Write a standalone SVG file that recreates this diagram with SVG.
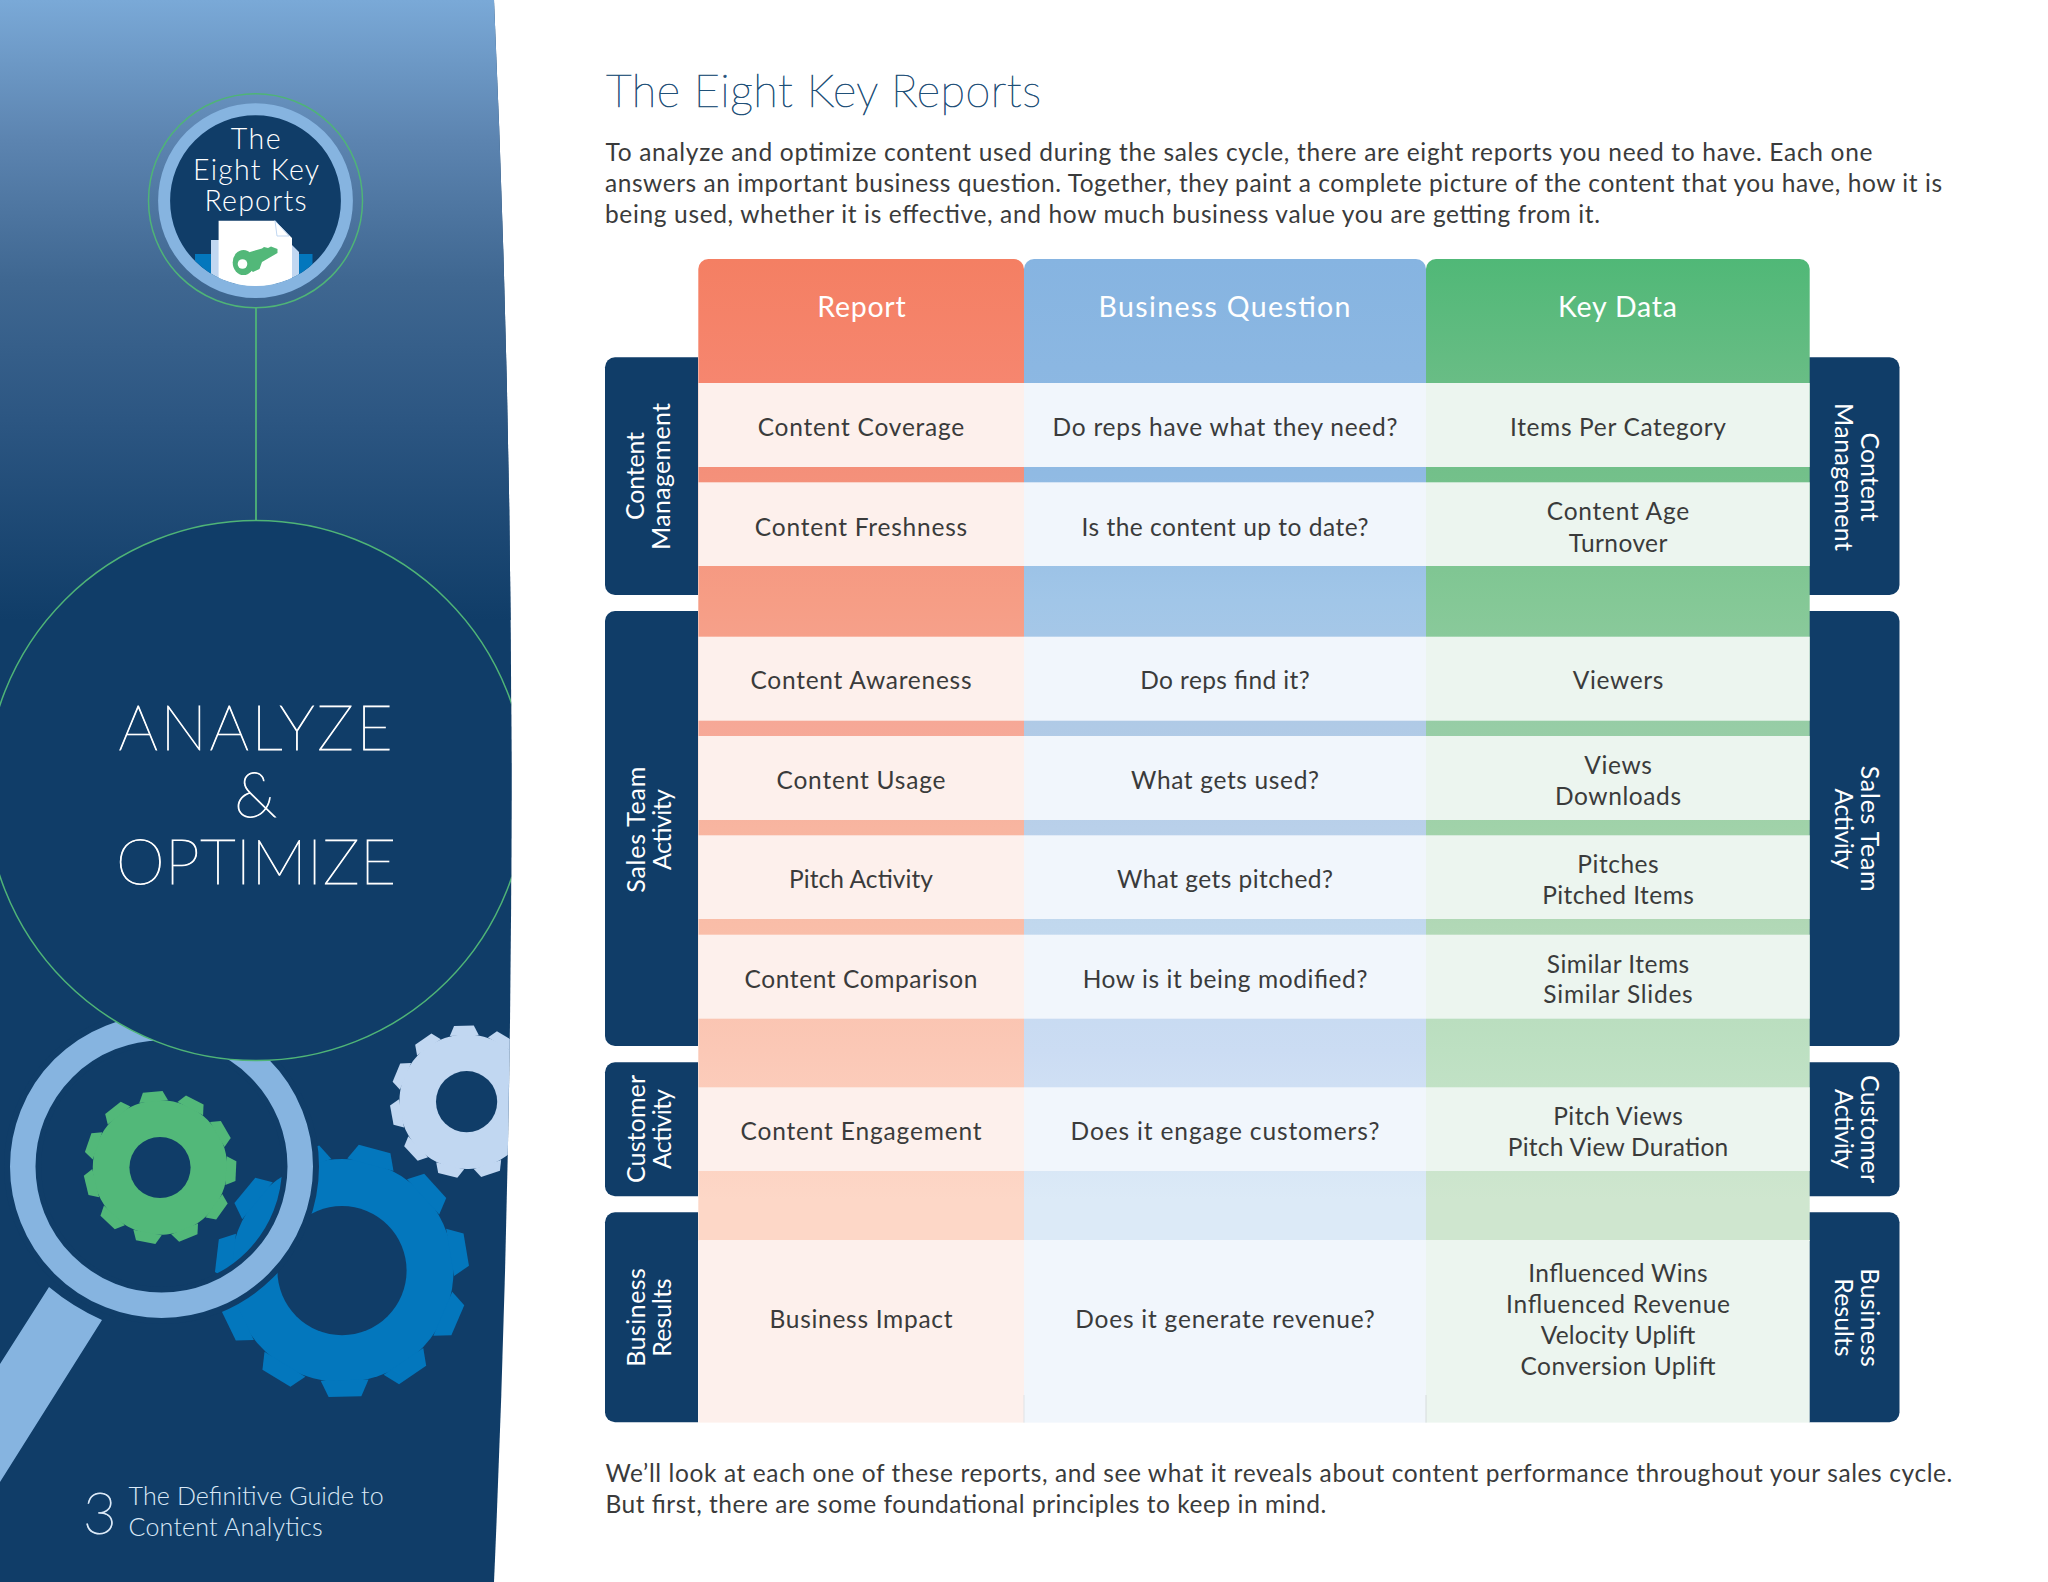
<svg xmlns="http://www.w3.org/2000/svg" width="2048" height="1582" viewBox="0 0 2048 1582">
<style>
text{font-family:"Lato","Liberation Sans",sans-serif}
.c{font-size:24.5px;fill:#3a3b3b;text-anchor:middle;transform:translateY(1px)}
.b{font-size:24.5px;fill:#3a3b3b}
.h{font-size:28.5px;font-weight:400;fill:#fff;text-anchor:middle}
.t{font-size:25px;fill:#fff;text-anchor:middle}
.w{fill:#fff;text-anchor:middle;font-weight:300}
.big{font-weight:200;stroke:#fff;stroke-width:.9px}
.tab{fill:#103d68}
.p1{fill:#fdf0ec}.p2{fill:#f1f6fc}.p3{fill:#ecf5ef}
</style>
<defs>
<linearGradient id="side" gradientUnits="userSpaceOnUse" x1="0" y1="0" x2="0" y2="620">
<stop offset="0" stop-color="#7aa9d7"/><stop offset=".226" stop-color="#5c84b0"/><stop offset=".452" stop-color="#3f6791"/><stop offset=".677" stop-color="#2c5682"/><stop offset="1" stop-color="#103d68"/>
</linearGradient>
<linearGradient id="g1" gradientUnits="userSpaceOnUse" x1="0" y1="259" x2="0" y2="1240">
<stop offset="0" stop-color="#f47f63"/><stop offset=".126" stop-color="#f6866f"/><stop offset=".22" stop-color="#f4907a"/><stop offset=".348" stop-color="#f69d85"/><stop offset=".478" stop-color="#f6a897"/><stop offset=".579" stop-color="#f8b5a0"/><stop offset=".679" stop-color="#f9bda8"/><stop offset=".807" stop-color="#fbc8b6"/><stop offset=".959" stop-color="#fdd7c7"/>
</linearGradient>
<linearGradient id="g2" gradientUnits="userSpaceOnUse" x1="0" y1="259" x2="0" y2="1240">
<stop offset="0" stop-color="#86b4e1"/><stop offset=".22" stop-color="#90bae3"/><stop offset=".348" stop-color="#a1c6e8"/><stop offset=".478" stop-color="#b0cae6"/><stop offset=".579" stop-color="#b9d0ea"/><stop offset=".679" stop-color="#c1d8ee"/><stop offset=".807" stop-color="#cbdcf3"/><stop offset=".959" stop-color="#dceaf7"/>
</linearGradient>
<linearGradient id="g3" gradientUnits="userSpaceOnUse" x1="0" y1="259" x2="0" y2="1240">
<stop offset="0" stop-color="#50b877"/><stop offset=".126" stop-color="#69bd85"/><stop offset=".22" stop-color="#73c08a"/><stop offset=".348" stop-color="#84c896"/><stop offset=".478" stop-color="#97cda6"/><stop offset=".579" stop-color="#a0d2a9"/><stop offset=".679" stop-color="#b1d8b6"/><stop offset=".807" stop-color="#bde0c2"/><stop offset=".959" stop-color="#cfe6cf"/>
</linearGradient>
<clipPath id="sideclip"><path d="M0 0H494Q529 791 494 1582H0Z"/></clipPath>
<clipPath id="badgeclip"><circle cx="255.5" cy="200.7" r="85.4"/></clipPath>
<polygon id="tooth" points="-19,-87 -13,-100 13,-100 19,-87"/>
<g id="gear">
<circle r="88.500"/>
<use href="#tooth"/>
<use href="#tooth" transform="rotate(32.73)"/>
<use href="#tooth" transform="rotate(65.45)"/>
<use href="#tooth" transform="rotate(98.18)"/>
<use href="#tooth" transform="rotate(130.91)"/>
<use href="#tooth" transform="rotate(163.64)"/>
<use href="#tooth" transform="rotate(196.36)"/>
<use href="#tooth" transform="rotate(229.09)"/>
<use href="#tooth" transform="rotate(261.82)"/>
<use href="#tooth" transform="rotate(294.55)"/>
<use href="#tooth" transform="rotate(327.27)"/>
</g>
</defs>
<rect width="2048" height="1582" fill="#fff"/>

<g id="sidebar" clip-path="url(#sideclip)">
<rect width="540" height="1582" fill="#103d68"/>
<rect width="540" height="620" fill="url(#side)"/>
<g id="gears">
<use href="#gear" transform="translate(466.6,1101.7) rotate(-2) scale(.76)" fill="#c1d7f1"/>
<circle cx="466.6" cy="1101.7" r="30.6" fill="#103d68"/>
<use href="#gear" transform="translate(342,1270.6) rotate(15) scale(1.26)" fill="#0377bd"/>
<circle cx="342" cy="1270.6" r="64.6" fill="#103d68"/>
</g>
<g id="magnifier">
<circle cx="161.5" cy="1166.5" r="139" fill="none" stroke="#103d68" stroke-width="37"/>
<circle cx="161.5" cy="1166.5" r="138.75" fill="none" stroke="#86b4e0" stroke-width="25.5"/>
<path d="M49 1287Q73 1307 102 1320L0 1482V1364Z" fill="#86b4e0"/>
<use href="#gear" transform="translate(160,1167.5) rotate(-5.5) scale(.76)" fill="#52b879"/>
<circle cx="160" cy="1167.5" r="30.6" fill="#103d68"/>
</g>
<g id="analyze-node">
<circle cx="256" cy="790.6" r="270" fill="#103d68" stroke="#4fb477" stroke-width="1.5"/>
<text class="w big" font-size="62" x="255.500" y="750" textLength="274">ANALYZE</text>
<text class="w big" font-size="62" x="255.500" y="817">&amp;</text>
<text class="w big" font-size="62" x="256" y="884" textLength="280">OPTIMIZE</text>
</g>
<g id="badge-node">
<circle cx="255.500" cy="200.700" r="107" fill="none" stroke="#4fb477" stroke-width="1.500"/>
<circle cx="255.500" cy="200.700" r="91.400" fill="#103d68" stroke="#86b4e0" stroke-width="12"/>
<g clip-path="url(#badgeclip)">
<rect x="195" y="254" width="117.500" height="40" fill="#0377bd"/>
<path d="M211 240H287L299 252V294H211Z" fill="#c1d7f1"/>
<path d="M218.600 220.700H275L292 238V294H218.600Z" fill="#fff"/>
<path d="M275 220.700L289 236H277Z" fill="#fff" stroke="#c1d7f1" stroke-width="1"/>
<ellipse cx="243.500" cy="262.500" rx="10.800" ry="12.600" fill="#52b879"/>
<polygon points="250,252 262,248.500 264,247 268,248 271,246.500 277.500,249 277.500,253 262,262 259.500,269 253,272 248,268" fill="#52b879"/>
<circle cx="242.500" cy="264" r="4.800" fill="#fff"/>
</g>
<text class="w" font-size="28.500" x="255.700" y="148.600" textLength="50">The</text>
<text class="w" font-size="28.500" x="256" y="179.600" textLength="126">Eight Key</text>
<text class="w" font-size="28.500" x="255.500" y="210.700" textLength="102">Reports</text>
</g>
<g id="footer-node" fill="#dbe9f7">
<text x="83" y="1533.500" font-size="58" font-weight="200" fill="#dbe9f7" stroke="#dbe9f7" stroke-width=".9">3</text>
<text x="128.600" y="1505.400" font-size="25" font-weight="300" fill="#dbe9f7" textLength="255">The Definitive Guide to</text>
<text x="128.600" y="1536" font-size="25" font-weight="300" fill="#dbe9f7" textLength="194">Content Analytics</text>
</g>
</g>

<g id="connectors">
<line x1="256" y1="308" x2="256" y2="520.700" stroke="#4fb477" stroke-width="1.800"/>
</g>

<g id="intro">
<text x="606" y="106.700" font-size="45" font-weight="200" fill="#1f5078" stroke="#1f5078" stroke-width=".7" textLength="435">The Eight Key Reports</text>
<text class="b" x="605.500" y="160.700" textLength="1267">To analyze and optimize content used during the sales cycle, there are eight reports you need to have. Each one</text>
<text class="b" x="605" y="191.700" textLength="1337">answers an important business question. Together, they paint a complete picture of the content that you have, how it is</text>
<text class="b" x="605" y="222.700" textLength="995">being used, whether it is effective, and how much business value you are getting from it.</text>
</g>

<g id="tab-left-content-management">
<path class="tab" d="M698 357.300H615A10 10 0 0 0 605 367.300V585A10 10 0 0 0 615 595H698Z"/>
<text class="t" transform="translate(644,476) rotate(-90)" textLength="88">Content</text>
<text class="t" transform="translate(670,476.500) rotate(-90)" textLength="147">Management</text>
</g>
<g id="tab-left-sales-team-activity">
<path class="tab" d="M698 611H615A10 10 0 0 0 605 621V1036A10 10 0 0 0 615 1046H698Z"/>
<text class="t" transform="translate(645,829.700) rotate(-90)" textLength="126">Sales Team</text>
<text class="t" transform="translate(671,829.500) rotate(-90)" textLength="81">Activity</text>
</g>
<g id="tab-left-customer-activity">
<path class="tab" d="M698 1062.300H615A10 10 0 0 0 605 1072.300V1186.300A10 10 0 0 0 615 1196.300H698Z"/>
<text class="t" transform="translate(645,1129) rotate(-90)" textLength="108">Customer</text>
<text class="t" transform="translate(671,1129) rotate(-90)" textLength="80">Activity</text>
</g>
<g id="tab-left-business-results">
<path class="tab" d="M698 1212.300H615A10 10 0 0 0 605 1222.300V1412.300A10 10 0 0 0 615 1422.300H698Z"/>
<text class="t" transform="translate(645,1317.400) rotate(-90)" textLength="98.700">Business</text>
<text class="t" transform="translate(671,1317.500) rotate(-90)" textLength="78.400">Results</text>
</g>

<g id="tab-right-content-management">
<path class="tab" d="M1809 357.300H1889.500A10 10 0 0 1 1899.500 367.300V585A10 10 0 0 1 1889.500 595H1809Z"/>
<text class="t" transform="translate(1860.500,477) rotate(90)" textLength="89">Content</text>
<text class="t" transform="translate(1834.500,477) rotate(90)" textLength="148">Management</text>
</g>
<g id="tab-right-sales-team-activity">
<path class="tab" d="M1809 611H1889.500A10 10 0 0 1 1899.500 621V1036A10 10 0 0 1 1889.500 1046H1809Z"/>
<text class="t" transform="translate(1860.500,828.700) rotate(90)" textLength="126">Sales Team</text>
<text class="t" transform="translate(1834.500,829) rotate(90)" textLength="81">Activity</text>
</g>
<g id="tab-right-customer-activity">
<path class="tab" d="M1809 1062.300H1889.500A10 10 0 0 1 1899.500 1072.300V1186.300A10 10 0 0 1 1889.500 1196.300H1809Z"/>
<text class="t" transform="translate(1860.500,1129) rotate(90)" textLength="108">Customer</text>
<text class="t" transform="translate(1834.500,1129) rotate(90)" textLength="80">Activity</text>
</g>
<g id="tab-right-business-results">
<path class="tab" d="M1809 1212.300H1889.500A10 10 0 0 1 1899.500 1222.300V1412.300A10 10 0 0 1 1889.500 1422.300H1809Z"/>
<text class="t" transform="translate(1860.500,1317.500) rotate(90)" textLength="98.700">Business</text>
<text class="t" transform="translate(1834.500,1317.500) rotate(90)" textLength="78.400">Results</text>
</g>

<g id="header-report">
<path d="M698.300 1241V269A10 10 0 0 1 708.300 259H1014A10 10 0 0 1 1024 269V1241Z" fill="url(#g1)"/>
<text class="h" x="861.500" y="316.700" textLength="88.300">Report</text>
</g>
<g id="header-business-question">
<path d="M1024 1241V269A10 10 0 0 1 1034 259H1416A10 10 0 0 1 1426 269V1241Z" fill="url(#g2)"/>
<text class="h" x="1224.500" y="316.700" textLength="252">Business Question</text>
</g>
<g id="header-key-data">
<path d="M1426 1241V269A10 10 0 0 1 1436 259H1799.700A10 10 0 0 1 1809.700 269V1241Z" fill="url(#g3)"/>
<text class="h" x="1617.500" y="316.700" textLength="119">Key Data</text>
</g>

<g id="row-content-coverage">
<rect class="p1" x="698.300" y="383" width="325.700" height="84"/><rect class="p2" x="1024" y="383" width="402" height="84"/><rect class="p3" x="1426" y="383" width="383.700" height="84"/>
<text class="c" x="861" y="435" textLength="206.600">Content Coverage</text>
<text class="c" x="1225" y="435" textLength="345">Do reps have what they need?</text>
<text class="c" x="1618" y="435" textLength="216">Items Per Category</text>
</g>
<g id="row-content-freshness">
<rect class="p1" x="698.300" y="482.300" width="325.700" height="83.700"/><rect class="p2" x="1024" y="482.300" width="402" height="83.700"/><rect class="p3" x="1426" y="482.300" width="383.700" height="83.700"/>
<text class="c" x="861" y="535" textLength="212.300">Content Freshness</text>
<text class="c" x="1225" y="535" textLength="287">Is the content up to date?</text>
<text class="c" x="1618" y="519.300" textLength="142.300">Content Age</text>
<text class="c" x="1618" y="550.700" textLength="98.700">Turnover</text>
</g>
<g id="row-content-awareness">
<rect class="p1" x="698.300" y="636.700" width="325.700" height="84"/><rect class="p2" x="1024" y="636.700" width="402" height="84"/><rect class="p3" x="1426" y="636.700" width="383.700" height="84"/>
<text class="c" x="861" y="688.300" textLength="221">Content Awareness</text>
<text class="c" x="1225" y="688.300" textLength="169.500">Do reps find it?</text>
<text class="c" x="1618" y="688.300" textLength="90.700">Viewers</text>
</g>
<g id="row-content-usage">
<rect class="p1" x="698.300" y="736" width="325.700" height="84"/><rect class="p2" x="1024" y="736" width="402" height="84"/><rect class="p3" x="1426" y="736" width="383.700" height="84"/>
<text class="c" x="861" y="787.700" textLength="169">Content Usage</text>
<text class="c" x="1225" y="787.700" textLength="188">What gets used?</text>
<text class="c" x="1618" y="773" textLength="67.700">Views</text>
<text class="c" x="1618" y="804" textLength="126">Downloads</text>
</g>
<g id="row-pitch-activity">
<rect class="p1" x="698.300" y="835.300" width="325.700" height="83.700"/><rect class="p2" x="1024" y="835.300" width="402" height="83.700"/><rect class="p3" x="1426" y="835.300" width="383.700" height="83.700"/>
<text class="c" x="861" y="887.300" textLength="144">Pitch Activity</text>
<text class="c" x="1225" y="887.300" textLength="216">What gets pitched?</text>
<text class="c" x="1618" y="872.300" textLength="81.300">Pitches</text>
<text class="c" x="1618" y="903.300" textLength="151.700">Pitched Items</text>
</g>
<g id="row-content-comparison">
<rect class="p1" x="698.300" y="934.700" width="325.700" height="84"/><rect class="p2" x="1024" y="934.700" width="402" height="84"/><rect class="p3" x="1426" y="934.700" width="383.700" height="84"/>
<text class="c" x="861" y="986.700" textLength="233">Content Comparison</text>
<text class="c" x="1225" y="986.700" textLength="284.700">How is it being modified?</text>
<text class="c" x="1618" y="971.700" textLength="142.300">Similar Items</text>
<text class="c" x="1618" y="1002.300" textLength="149.300">Similar Slides</text>
</g>
<g id="row-content-engagement">
<rect class="p1" x="698.300" y="1087.300" width="325.700" height="83.700"/><rect class="p2" x="1024" y="1087.300" width="402" height="83.700"/><rect class="p3" x="1426" y="1087.300" width="383.700" height="83.700"/>
<text class="c" x="861" y="1139.300" textLength="241">Content Engagement</text>
<text class="c" x="1225" y="1139.300" textLength="308.800">Does it engage customers?</text>
<text class="c" x="1618" y="1124" textLength="129.500">Pitch Views</text>
<text class="c" x="1618" y="1155.300" textLength="220.500">Pitch View Duration</text>
</g>
<g id="row-business-impact">
<rect class="p1" x="698.300" y="1240" width="325.700" height="182.600"/><rect class="p2" x="1024" y="1240" width="402" height="182.600"/><rect class="p3" x="1426" y="1240" width="383.700" height="182.600"/>
<line x1="1024" y1="1395" x2="1024" y2="1422.600" stroke="#dfe3e6"/><line x1="1426" y1="1395" x2="1426" y2="1422.600" stroke="#d6dcdc"/>
<text class="c" x="861" y="1327.300" textLength="183">Business Impact</text>
<text class="c" x="1225" y="1327.300" textLength="299.500">Does it generate revenue?</text>
<text class="c" x="1618" y="1281" textLength="179.400">Influenced Wins</text>
<text class="c" x="1618" y="1312" textLength="224">Influenced Revenue</text>
<text class="c" x="1618" y="1342.700" textLength="154.600">Velocity Uplift</text>
<text class="c" x="1618" y="1374" textLength="195">Conversion Uplift</text>
</g>

<g id="outro">
<text class="b" x="605.400" y="1481.700" textLength="1347">We’ll look at each one of these reports, and see what it reveals about content performance throughout your sales cycle.</text>
<text class="b" x="605.400" y="1513" textLength="720.800">But first, there are some foundational principles to keep in mind.</text>
</g>
</svg>
